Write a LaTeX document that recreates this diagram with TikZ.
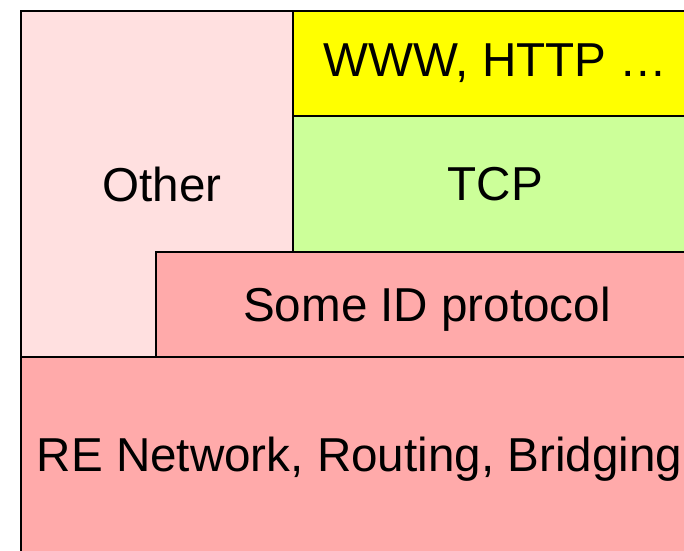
\documentclass[tikz,border=0pt]{standalone}
\usepackage{fontspec}
\setmainfont{Liberation Sans}
\definecolor{otherpink}{RGB}{255,224,224}
\definecolor{idpink}{RGB}{255,170,170}
\definecolor{tcpgreen}{RGB}{204,255,153}
\definecolor{wwwyellow}{RGB}{255,255,0}
\tikzset{layer/.style={draw=black, line width=2pt, rectangle, anchor=north west, inner sep=0pt, font=\fontsize{47.6}{56}\selectfont}}
\begin{document}
\begin{tikzpicture}[x=1pt,y=1pt]
\useasboundingbox (0,0) rectangle (684,550);
\clip (0,0) rectangle (684,550);
% side block
\node[layer, fill=otherpink, minimum width=272pt, minimum height=346pt] (other) at (20,540) {\hspace*{10pt}Other};
% upper stack
\node[layer, fill=wwwyellow, minimum width=405pt, minimum height=105pt] (www) at (292,540) {WWW, HTTP …};
\node[layer, fill=tcpgreen, minimum width=405pt, minimum height=136pt] (tcp) at (292,435) {TCP};
% lower stack
\node[layer, fill=idpink, minimum width=542pt, minimum height=105pt, text depth=0pt] (someid) at (155,299) {Some ID protocol};
\node[layer, fill=idpink, minimum width=677pt, minimum height=204pt] (renet) at (20,194) {RE Network, Routing, Bridging};
\end{tikzpicture}
\end{document}
